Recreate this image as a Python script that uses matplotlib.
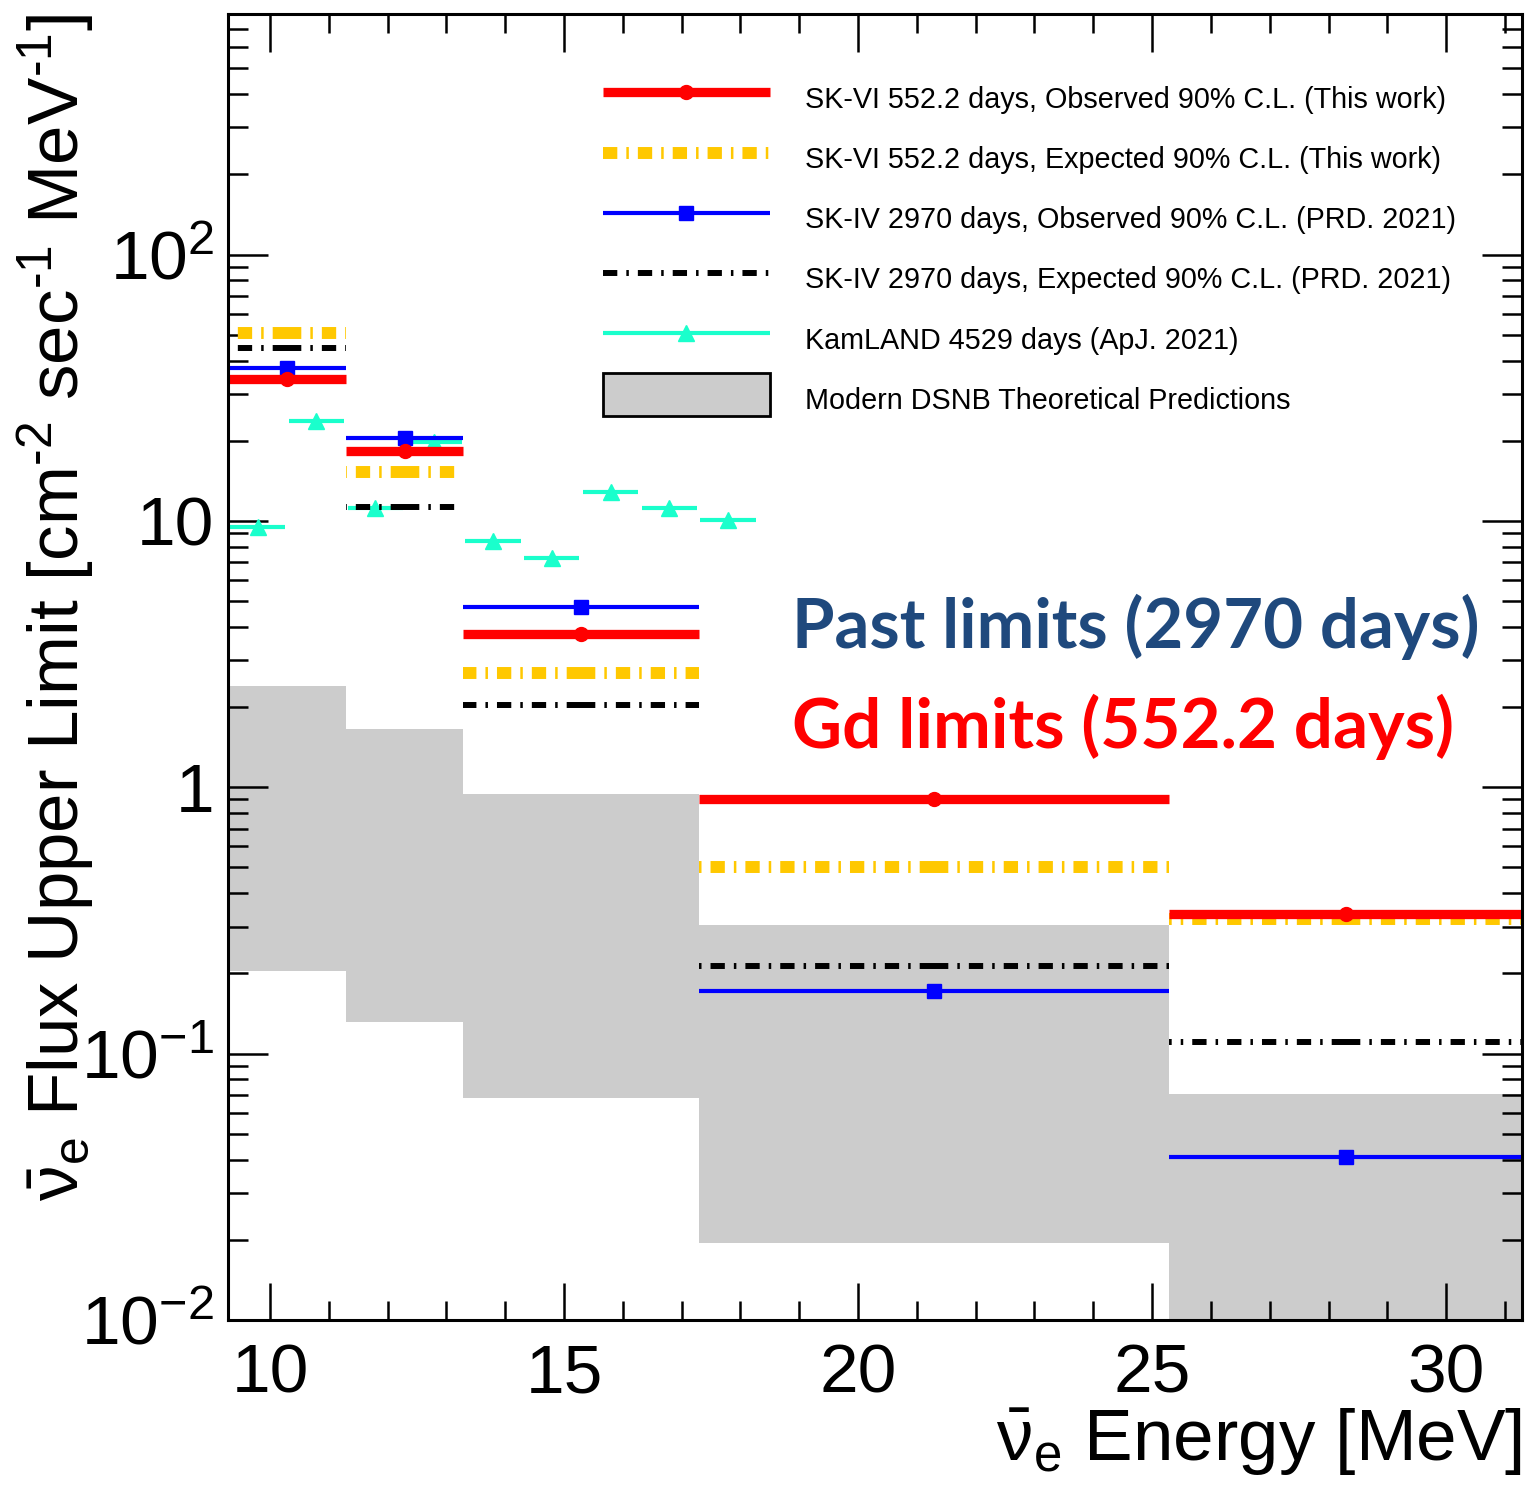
import matplotlib
matplotlib.use("Agg")
import numpy as np
import matplotlib.pyplot as plt
from matplotlib.lines import Line2D
from matplotlib.patches import Patch, Rectangle
from matplotlib.legend_handler import HandlerPatch
from matplotlib.ticker import FixedLocator, FixedFormatter, MultipleLocator, LogLocator, NullFormatter

plt.rcParams['font.family'] = ['Liberation Sans', 'DejaVu Sans']
plt.rcParams['mathtext.fontset'] = 'custom'
plt.rcParams['mathtext.rm'] = 'Liberation Sans'
plt.rcParams['mathtext.it'] = 'Liberation Sans:italic'
plt.rcParams['mathtext.bf'] = 'Liberation Sans:bold'
plt.rcParams['mathtext.sf'] = 'Liberation Sans'
plt.rcParams['mathtext.default'] = 'regular'
plt.rcParams['lines.scale_dashes'] = False

# ---- data -------------------------------------------------------------
# SK energy bins [MeV]
bin_edges = [9.29, 11.29, 13.29, 17.29, 25.29, 31.29]
# 90% C.L. flux upper limits [cm^-2 s^-1 MeV^-1]
sk6_observed = [34.0, 18.3, 3.77, 0.90, 0.333]
sk6_expected = [50.8, 15.2, 2.69, 0.50, 0.319]
sk4_observed = [37.4, 20.5, 4.76, 0.172, 0.041]
sk4_expected = [44.7, 11.3, 2.04, 0.214, 0.111]
# band spanned by modern DSNB predictions
dsnb_low = [0.204, 0.131, 0.068, 0.0195, 0.004]
dsnb_high = [2.41, 1.66, 0.94, 0.305, 0.0703]
# KamLAND limits in 1 MeV bins
kamland_edges = [9.29, 10.29, 11.29, 12.29, 13.29, 14.29, 15.29, 16.29, 17.29, 18.29]
kamland_limit = [9.51, 23.8, 11.2, 19.8, 8.43, 7.28, 12.8, 11.2, 10.1]

legend_labels = [
    "SK-VI 552.2 days, Observed 90% C.L. (This work)",
    "SK-VI 552.2 days, Expected 90% C.L. (This work)",
    "SK-IV 2970 days, Observed 90% C.L. (PRD. 2021)",
    "SK-IV 2970 days, Expected 90% C.L. (PRD. 2021)",
    "KamLAND 4529 days (ApJ. 2021)",
    "Modern DSNB Theoretical Predictions",
]
ytick_values = [0.01, 0.1, 1, 10, 100]
ytick_labels = [r"$10^{-2}$", r"$10^{-1}$", "1", "10", r"$10^{2}$"]
xtick_values = [10, 15, 20, 25, 30]

# ---- styles -----------------------------------------------------------
C_RED = "#ff0000"
C_YEL = "#ffc800"
C_BLUE = "#0000ff"
C_BLACK = "#000000"
C_TEAL = "#1affcc"
C_GRAY = "#cccccc"
DASHDOT = [10.3, 6.5, 1.8, 6.5]

fig = plt.figure(figsize=(15.31, 14.90), dpi=100)
ax = fig.add_axes([0.1491, 0.1141, 0.9941 - 0.1491, 0.9906 - 0.1141])
ax.set_yscale("log")
ax.set_xlim(bin_edges[0], bin_edges[-1])
ax.set_ylim(0.01, 800)

# theory band
ax.stairs(dsnb_high, bin_edges, baseline=dsnb_low, fill=True,
          color=C_GRAY, lw=0, zorder=1)

lo = np.array(bin_edges[:-1])
hi = np.array(bin_edges[1:])
mid = 0.5 * (lo + hi)


def draw_limits(values, color, lw, dashes=None, marker=None, ms=0, z=3):
    """Each bin is drawn as two half bars starting from the bin centre."""
    for l, h, m, v in zip(lo, hi, mid, values):
        for end in (l, h):
            line, = ax.plot([m, end], [v, v], color=color, lw=lw,
                            solid_capstyle="butt", dash_capstyle="butt",
                            zorder=z)
            if dashes is not None:
                line.set_dashes(dashes)
    if marker is not None:
        ax.plot(mid, values, ls="none", marker=marker, ms=ms, color=color,
                mec=color, zorder=z + 0.1)


# KamLAND
k_lo = np.array(kamland_edges[:-1])
k_hi = np.array(kamland_edges[1:])
k_mid = 0.5 * (k_lo + k_hi)
ax.hlines(kamland_limit, k_lo + 0.03, k_hi - 0.03, color=C_TEAL, lw=3.0, zorder=2)
ax.plot(k_mid, kamland_limit, ls="none", marker="^", ms=12, color=C_TEAL, zorder=2.1)

draw_limits(sk6_expected, C_YEL, 8.6, dashes=DASHDOT, z=3)
draw_limits(sk4_expected, C_BLACK, 4.3, dashes=DASHDOT, z=3.5)
draw_limits(sk4_observed, C_BLUE, 3.0, marker="s", ms=10, z=4)
draw_limits(sk6_observed, C_RED, 6.7, marker="o", ms=10, z=5)

# ---- axes ---------------------------------------------------------------
for sp in ax.spines.values():
    sp.set_linewidth(2.2)
    sp.set_zorder(10)

ax.xaxis.set_major_locator(FixedLocator(xtick_values))
ax.xaxis.set_minor_locator(MultipleLocator(1))
ax.yaxis.set_major_locator(FixedLocator(ytick_values))
ax.yaxis.set_major_formatter(FixedFormatter(ytick_labels))
ax.yaxis.set_minor_locator(LogLocator(base=10, subs=np.arange(2, 10)))
ax.yaxis.set_minor_formatter(NullFormatter())

ax.tick_params(which="both", direction="in", top=True, right=True,
               width=1.8, zorder=10)
ax.tick_params(axis="x", which="major", length=27, labelsize=50, pad=16)
ax.tick_params(axis="x", which="minor", length=14)
ax.tick_params(axis="y", which="major", length=29, labelsize=50, pad=10)
ax.tick_params(axis="y", which="minor", length=14.5)

ax.set_ylabel(r"$\bar{\nu}_e$ Flux Upper Limit [cm$^{\text{-2}}$ sec$^{\text{-1}}$ MeV$^{\text{-1}}$]",
              fontsize=51, loc="top")
ax.yaxis.set_label_coords(-0.102, 1.0)
ax.set_xlabel(r"$\bar{\nu}_e$ Energy [MeV]", fontsize=52.5, loc="right")
ax.xaxis.set_label_coords(1.0, -0.066)


# ---- legend -------------------------------------------------------------
def band_box(legend, orig_handle, xdescent, ydescent, width, height, fontsize):
    # filled box, raised slightly so it sits level with its label
    return Rectangle((-xdescent, -ydescent + 4.0), width, height - 0.8)


handles = [
    Line2D([], [], color=C_RED, lw=6.7, marker="o", ms=10, solid_capstyle="butt"),
    Line2D([], [], color=C_YEL, lw=8.6, dashes=DASHDOT, dash_capstyle="butt"),
    Line2D([], [], color=C_BLUE, lw=3.0, marker="s", ms=10, solid_capstyle="butt"),
    Line2D([], [], color=C_BLACK, lw=4.3, dashes=DASHDOT, dash_capstyle="butt"),
    Line2D([], [], color=C_TEAL, lw=3.0, marker="^", ms=12, solid_capstyle="butt"),
    Patch(facecolor=C_GRAY, edgecolor="black", lw=2),
]
ax.legend(handles, legend_labels, loc="upper left",
          bbox_to_anchor=(603 / 1531, 1 - 77 / 1490), bbox_transform=fig.transFigure,
          frameon=False, fontsize=20.7, numpoints=1,
          handlelength=5.8, handleheight=1.95, handletextpad=1.22,
          labelspacing=0.58, borderpad=0, borderaxespad=0,
          handler_map={Patch: HandlerPatch(patch_func=band_box)})

# ---- annotations ----------------------------------------------------------
ax.text(0.4357, 0.5145, "Past limits (2970 days)", transform=ax.transAxes,
        fontsize=49.6, fontweight="bold", family="Lato", color="#1f497d",
        ha="left", va="baseline", zorder=12)
ax.text(0.4357, 0.438, "Gd limits (552.2 days)", transform=ax.transAxes,
        fontsize=49.8, fontweight="bold", family="Lato", color="#ff0000",
        ha="left", va="baseline", zorder=12)

fig.savefig("out.png", dpi=100, facecolor="white")
